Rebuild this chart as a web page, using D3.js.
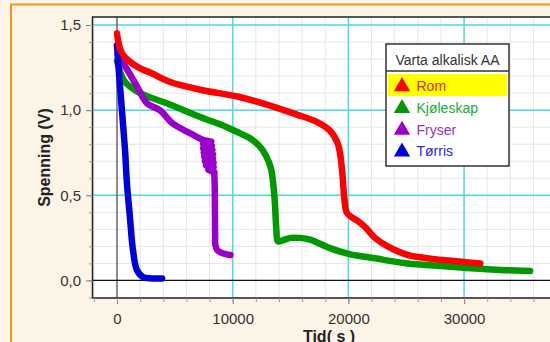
<!DOCTYPE html>
<html>
<head>
<meta charset="utf-8">
<script src="https://cdn.jsdelivr.net/npm/d3@7"></script>
<style>
  html, body { margin: 0; padding: 0; background: #fdf4e8; }
  svg { display: block; }
</style>
</head>
<body>
<svg id="chart"></svg>
<script>
// Data (time in seconds, voltage in volts)
const seriesNames = ['Rom', 'Kjøleskap', 'Fryser', 'Tørris'];

const romT = [0, 150, 350, 700, 1100, 2000, 2900, 4600, 7200, 10400, 12600, 15500, 17300, 18400, 19100, 19450, 19650, 19850, 20200, 20800, 21500, 22300, 23400, 25100, 27500, 29800, 31400];
const romV = [1.45, 1.39, 1.345, 1.31, 1.285, 1.245, 1.22, 1.165, 1.12, 1.08, 1.04, 0.975, 0.93, 0.88, 0.80, 0.65, 0.48, 0.40, 0.375, 0.35, 0.31, 0.25, 0.20, 0.15, 0.125, 0.11, 0.10];

const kjoT = [0, 300, 700, 1500, 2300, 4300, 7200, 9500, 10600, 11500, 12300, 12900, 13300, 13500, 13650, 13780, 13900, 14300, 15000, 15800, 16700, 18400, 20100, 22300, 25100, 28100, 30900, 33800, 35700];
const kjoV = [1.29, 1.22, 1.165, 1.12, 1.09, 1.04, 0.96, 0.90, 0.865, 0.835, 0.79, 0.73, 0.66, 0.57, 0.45, 0.29, 0.23, 0.235, 0.25, 0.25, 0.24, 0.19, 0.155, 0.13, 0.10, 0.085, 0.07, 0.06, 0.055];

// the smooth part of the freezer curve, then the noisy stretch, then the drop
const fryT = [50, 400, 860, 1730, 2600, 3700, 4850, 6300, 7400];
const fryV = [1.33, 1.29, 1.24, 1.14, 1.04, 1.00, 0.92, 0.865, 0.825];
const fryNoiseT = [7400, 8150, 7450, 8200, 7450, 8250, 7500, 8300, 7550, 8300, 7600, 8350, 7700, 8350, 7900, 8400];
const fryNoiseV = [0.825, 0.815, 0.80, 0.79, 0.775, 0.765, 0.75, 0.74, 0.725, 0.715, 0.70, 0.69, 0.675, 0.665, 0.65, 0.635];
const fryTailT = [8400, 8440, 8460, 8470, 8480, 8500, 8650, 8950, 9400, 9800];
const fryTailV = [0.635, 0.57, 0.45, 0.35, 0.26, 0.21, 0.18, 0.165, 0.155, 0.15];

const torT = [0, 260, 690, 860, 1120, 1380, 1730, 2250, 3000, 3900];
const torV = [1.38, 1.14, 0.77, 0.57, 0.37, 0.18, 0.06, 0.02, 0.012, 0.012];

const xTicks = [0, 10000, 20000, 30000];
const yTicks = [0, 0.5, 1.0, 1.5];

const lineColors = ['#ff0000', '#009900', '#9900cc', '#0000dd'];
const textColors = ['#e02a00', '#22aa33', '#9a30c0', '#2a2ad0'];

const width = 550, height = 342;
const plot = { left: 92.5, top: 17, right: 560, bottom: 298 };

const svg = d3.select('#chart').attr('width', width).attr('height', height);

// orange frame
svg.append('rect')
  .attr('x', 11).attr('y', 4.5)
  .attr('width', 600).attr('height', 400)
  .attr('fill', '#fdf4e8')
  .attr('stroke', '#f7941d')
  .attr('stroke-width', 2);

const x = d3.scaleLinear().domain([-2117, 38290]).range([plot.left, plot.right]);
const y = d3.scaleLinear().domain([-0.103, 1.547]).range([plot.bottom, plot.top]);

svg.append('defs').append('clipPath').attr('id', 'clip')
  .append('rect')
  .attr('x', plot.left).attr('y', plot.top)
  .attr('width', plot.right - plot.left).attr('height', plot.bottom - plot.top);

svg.append('rect')
  .attr('x', plot.left).attr('y', plot.top)
  .attr('width', plot.right - plot.left).attr('height', plot.bottom - plot.top)
  .attr('fill', 'white');

const grid = svg.append('g').attr('clip-path', 'url(#clip)');

// minor grid
grid.selectAll('.vmin')
  .data(d3.range(-2000, 38001, 2000))
  .enter().append('line')
  .attr('x1', d => x(d)).attr('x2', d => x(d))
  .attr('y1', plot.top).attr('y2', plot.bottom)
  .attr('stroke', '#e6e6e6').attr('stroke-width', 1);

grid.selectAll('.hmin')
  .data(d3.range(-1, 16).map(i => i / 10))
  .enter().append('line')
  .attr('x1', plot.left).attr('x2', plot.right)
  .attr('y1', d => y(d)).attr('y2', d => y(d))
  .attr('stroke', '#e6e6e6').attr('stroke-width', 1);

// major grid
grid.selectAll('.vmaj')
  .data(xTicks.filter(d => d !== 0))
  .enter().append('line')
  .attr('x1', d => x(d)).attr('x2', d => x(d))
  .attr('y1', plot.top).attr('y2', plot.bottom)
  .attr('stroke', '#4fdbe3').attr('stroke-width', 1.5);

grid.selectAll('.hmaj')
  .data(yTicks.filter(d => d !== 0))
  .enter().append('line')
  .attr('x1', plot.left).attr('x2', plot.right)
  .attr('y1', d => y(d)).attr('y2', d => y(d))
  .attr('stroke', '#4fdbe3').attr('stroke-width', 1.5);

// zero lines
grid.append('line')
  .attr('x1', x(0)).attr('x2', x(0))
  .attr('y1', plot.top).attr('y2', plot.bottom)
  .attr('stroke', '#555').attr('stroke-width', 1.3);
grid.append('line')
  .attr('x1', plot.left).attr('x2', plot.right)
  .attr('y1', y(0)).attr('y2', y(0))
  .attr('stroke', '#111').attr('stroke-width', 1.3);

// series
const smooth = d3.curveCatmullRom.alpha(0.5);
const series = [
  { t: kjoT, v: kjoV, c: lineColors[1], curve: smooth },
  { t: fryT, v: fryV, c: lineColors[2], curve: smooth },
  { t: fryNoiseT, v: fryNoiseV, c: lineColors[2], curve: d3.curveLinear },
  { t: fryTailT, v: fryTailV, c: lineColors[2], curve: smooth },
  { t: torT, v: torV, c: lineColors[3], curve: smooth },
  { t: romT, v: romV, c: lineColors[0], curve: smooth }
];

series.forEach(s => {
  const line = d3.line()
    .x(d => x(d[0]))
    .y(d => y(d[1]))
    .curve(s.curve);
  grid.append('path')
    .datum(s.t.map((t, i) => [t, s.v[i]]))
    .attr('d', line)
    .attr('fill', 'none')
    .attr('stroke', s.c)
    .attr('stroke-width', 6.5)
    .attr('stroke-linejoin', 'round')
    .attr('stroke-linecap', 'round');
});

// plot border
svg.append('path')
  .attr('d', `M${plot.right},${plot.top}H${plot.left}V${plot.bottom}H${plot.right}`)
  .attr('fill', 'none')
  .attr('stroke', '#222')
  .attr('stroke-width', 1.5);

// axes
const yAxis = svg.append('g')
  .attr('transform', `translate(${plot.left},0)`)
  .call(d3.axisLeft(y).tickValues(yTicks).tickSize(6.5).tickPadding(5)
    .tickFormat(d => d3.format('.1f')(d).replace('.', ',')));
yAxis.select('.domain').remove();
yAxis.selectAll('line').attr('stroke', '#777');
yAxis.selectAll('text')
  .attr('font-family', 'Liberation Sans, Arial, sans-serif')
  .attr('font-size', '15px').attr('fill', '#333');

const yMinor = svg.append('g')
  .attr('transform', `translate(${plot.left},0)`)
  .call(d3.axisLeft(y).tickValues(d3.range(-1, 16).map(i => i / 10)).tickSize(3.5).tickFormat(''));
yMinor.select('.domain').remove();
yMinor.selectAll('line').attr('stroke', '#999');

const xAxis = svg.append('g')
  .attr('transform', `translate(0,${plot.bottom})`)
  .call(d3.axisBottom(x).tickValues(xTicks).tickSize(6).tickPadding(9)
    .tickFormat(d3.format('d')));
xAxis.select('.domain').remove();
xAxis.selectAll('line').attr('stroke', '#777');
xAxis.selectAll('text')
  .attr('font-family', 'Liberation Sans, Arial, sans-serif')
  .attr('font-size', '15px').attr('fill', '#333');

const xMinor = svg.append('g')
  .attr('transform', `translate(0,${plot.bottom})`)
  .call(d3.axisBottom(x).tickValues(d3.range(-2000, 38001, 2000)).tickSize(4).tickFormat(''));
xMinor.select('.domain').remove();
xMinor.selectAll('line').attr('stroke', '#999');

// axis titles
svg.append('text')
  .attr('transform', `translate(50,${(plot.top + plot.bottom) / 2}) rotate(-90)`)
  .attr('text-anchor', 'middle')
  .attr('font-family', 'Liberation Sans, Arial, sans-serif')
  .attr('font-size', '16px').attr('font-weight', 'bold')
  .attr('fill', '#222')
  .text('Spenning (V)');

svg.append('text')
  .attr('x', 329).attr('y', 342)
  .attr('text-anchor', 'middle')
  .attr('font-family', 'Liberation Sans, Arial, sans-serif')
  .attr('font-size', '16px').attr('font-weight', 'bold')
  .attr('fill', '#222')
  .text('Tid( s )');

// legend
const lg = svg.append('g');
lg.append('rect')
  .attr('x', 386).attr('y', 44).attr('width', 123).attr('height', 122)
  .attr('fill', 'white').attr('stroke', '#333').attr('stroke-width', 1.5);
lg.append('line')
  .attr('x1', 386).attr('x2', 509).attr('y1', 71).attr('y2', 71)
  .attr('stroke', '#333').attr('stroke-width', 1.5);
lg.append('text')
  .attr('x', 447.5).attr('y', 64.5)
  .attr('text-anchor', 'middle')
  .attr('font-family', 'Liberation Sans, Arial, sans-serif')
  .attr('font-size', '14px').attr('fill', '#333')
  .text('Varta alkalisk AA');
lg.append('rect')
  .attr('x', 388).attr('y', 74).attr('width', 119).attr('height', 22)
  .attr('fill', '#ffff00');

seriesNames.forEach((name, i) => {
  const cy = 85.5 + i * 21.8;
  lg.append('path')
    .attr('d', d3.symbol(d3.symbolTriangle, 115)())
    .attr('transform', `translate(402,${cy + 1})`)
    .attr('fill', lineColors[i]);
  lg.append('text')
    .attr('x', 416.5).attr('y', cy + 5.5)
    .attr('font-family', 'Liberation Sans, Arial, sans-serif')
    .attr('font-size', '14px').attr('fill', textColors[i])
    .text(name);
});
</script>
</body>
</html>
